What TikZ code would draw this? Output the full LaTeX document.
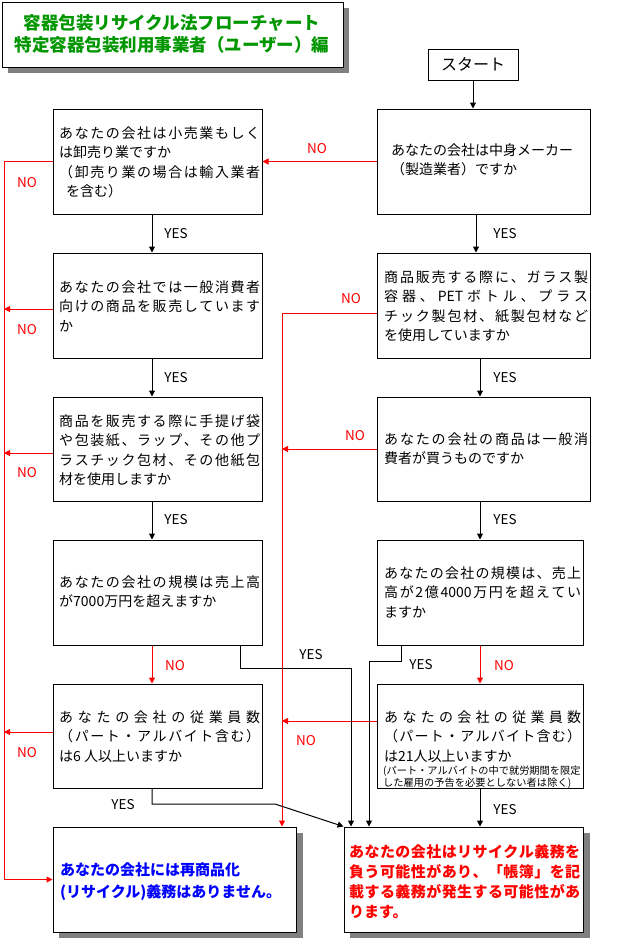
\documentclass[tikz,border=0pt]{standalone}
\usepackage{fontspec}
\setmainfont{Noto Sans CJK JP}
\usetikzlibrary{arrows.meta}
\definecolor{ttlgreen}{RGB}{0,150,0}
\definecolor{shd}{RGB}{128,128,128}
\makeatletter
\newcommand\spr[2]{\hbox to #1{\@tfor\sprx:=#2\do{\sprx\hfil}\unskip}}
\makeatother
\newcommand\fst{\rule{0pt}{0.93em}}
\begin{document}
\begin{tikzpicture}[x=1pt,y=-1pt,
  box/.style={draw=black,line width=1pt,fill=white,inner sep=0pt},
  txt/.style={anchor=north west,inner sep=0pt,align=left,font=\fontsize{14}{19.3}\selectfont},
  smalltxt/.style={anchor=north west,inner sep=0pt,align=left,font=\fontsize{10.2}{12}\selectfont},
  lbl/.style={inner sep=0pt,font=\fontsize{13.5}{16}\selectfont},
  nolbl/.style={lbl,text=red},
  yes/.style={draw=black,line width=1pt,-{Triangle[length=6pt,width=6pt]}},
  no/.style={draw=red,line width=1pt,-{Triangle[length=6pt,width=6pt]}}]

\useasboundingbox (0,0) rectangle (616,940);
\fill[white] (0,0) rectangle (616,940);

% shadows
\fill[shd] (8,8) rectangle (349,73);
\fill[shd] (59,833) rectangle (303,938);
\fill[shd] (350,833) rectangle (590,938);

% boxes
\node[box,minimum width=341pt,minimum height=65pt] (title) at (172.5,34.5) {};
\node[box,minimum width=90pt,minimum height=31pt,font=\fontsize{16}{18}\selectfont] (start) at (473,64.5) {スタート};
\node[box,minimum width=209pt,minimum height=105pt] (L1) at (157.5,161.5) {};
\node[box,minimum width=209pt,minimum height=105pt] (L2) at (157.5,305.5) {};
\node[box,minimum width=209pt,minimum height=104pt] (L3) at (157.5,449) {};
\node[box,minimum width=209pt,minimum height=105pt] (L4) at (157.5,592.5) {};
\node[box,minimum width=209pt,minimum height=104pt] (L5) at (157.5,736) {};
\node[box,minimum width=213pt,minimum height=105pt] (R1) at (483.5,161.5) {};
\node[box,minimum width=213pt,minimum height=105pt] (R2) at (483.5,305.5) {};
\node[box,minimum width=213pt,minimum height=104pt] (R3) at (483.5,449) {};
\node[box,minimum width=206pt,minimum height=105pt] (R4) at (480,592.5) {};
\node[box,minimum width=206pt,minimum height=104pt] (R5) at (480,736) {};
\node[box,minimum width=243pt,minimum height=105pt] (BL) at (174.5,879.5) {};
\node[box,minimum width=239pt,minimum height=105pt] (BR) at (463.5,879.5) {};

% helper coordinates
\coordinate (xL) at (152,0);
\coordinate (xR1) at (476,0);
\coordinate (xR) at (480,0);
\coordinate (xLL) at (4,0);
\coordinate (xM) at (282,0);
\coordinate (a1) at (240,668);
\coordinate (a2) at (351,668);
\coordinate (b1) at (401,661);
\coordinate (b2) at (369,661);
\coordinate (c1) at (152,804);
\coordinate (c2) at (275,804);

% connectors
\draw[yes] (start.south) -- (start.south |- R1.north);
\draw[yes] (L1.south -| xL) -- (L2.north -| xL);
\draw[yes] (L2.south -| xL) -- (L3.north -| xL);
\draw[yes] (L3.south -| xL) -- (L4.north -| xL);
\draw[no] (L4.south -| xL) -- (L5.north -| xL);
\draw[yes] (R1.south -| xR1) -- (R2.north -| xR1);
\draw[yes] (R2.south -| xR) -- (R3.north -| xR);
\draw[yes] (R3.south -| xR) -- (R4.north -| xR);
\draw[no] (R4.south -| xR) -- (R5.north -| xR);
\draw[yes] (R5.south -| xR) -- (BR.north -| xR);
\draw[no] (R1.west) -- (L1.east);
\draw[no] (L1.west) -- (L1.west -| xLL) -- (xLL |- BL.west) -- (BL.west);
\draw[no] ([yshift=-3.5pt]L2.west) -- ([yshift=-3.5pt]L2.west -| xLL);
\draw[no] ([yshift=-4pt]L3.west) -- ([yshift=-4pt]L3.west -| xLL);
\draw[no] ([yshift=4pt]L5.west) -- ([yshift=4pt]L5.west -| xLL);
\draw[no] ([yshift=-7.5pt]R2.west) -| (BL.north -| xM);
\draw[no] (R3.west) -- (R3.west -| xM);
\draw[no] ([yshift=15pt]R5.west) -- ([yshift=15pt]R5.west -| xM);
\draw[yes] (L4.south -| a1) -- (a1) -- (a2) -- (BR.north -| a2);
\draw[yes] (R4.south -| b1) -- (b1) -- (b2) -- (BR.north -| b2);
\draw[yes] (L5.south -| c1) -- (c1) -- (c2) -- (BR.north west);

% labels
\node[nolbl] (n1) at (317,149) {NO};
\node[nolbl] (n2) at (27,183) {NO};
\node[nolbl] (n3) at (27,330) {NO};
\node[nolbl] (n4) at (27,473) {NO};
\node[nolbl] (n5) at (27,753) {NO};
\node[nolbl] (n6) at (351,299) {NO};
\node[nolbl] (n7) at (355,436) {NO};
\node[nolbl] (n8) at (175,666) {NO};
\node[nolbl] (n9) at (504,666) {NO};
\node[nolbl] (n10) at (306,741) {NO};
\node[lbl] (y1) at (176,234) {YES};
\node[lbl] (y2) at (176,378) {YES};
\node[lbl] (y3) at (176,520) {YES};
\node[lbl] (y4) at (505,234) {YES};
\node[lbl] (y5) at (505,378) {YES};
\node[lbl] (y6) at (505,520) {YES};
\node[lbl] (y7) at (311,655) {YES};
\node[lbl] (y8) at (421,665) {YES};
\node[lbl] (y9) at (123,805) {YES};
\node[lbl] (y10) at (505,810) {YES};

% texts
\node[anchor=north,align=center,inner sep=0pt,font=\fontsize{17.5}{22}\selectfont\bfseries,text=ttlgreen] (ttl) at (172,13.4)
  {\fst 容器包装リサイクル法フローチャート\\特定容器包装利用事業者（ユーザー）編};

\node[txt] (tL1) at (59,125.3) {\fst\spr{201pt}{あなたの会社は小売業もしく}\\
  は卸売り業ですか\\
  \spr{201pt}{（卸売り業の場合は輸入業者}\\
  \hspace*{7pt}を含む）};
\node[txt] (tL2) at (59,279.3) {\fst\spr{201pt}{あなたの会社では一般消費者}\\
  \spr{201pt}{向けの商品を販売しています}\\
  か};
\node[txt] (tL3) at (59,413.3) {\fst\spr{201pt}{商品を販売する際に手提げ袋}\\
  \spr{201pt}{や包装紙、ラップ、その他プ}\\
  \spr{201pt}{ラスチック包材、その他紙包}\\
  材を使用しますか};
\node[txt] (tL4) at (59,574.3) {\fst\spr{201pt}{あなたの会社の規模は売上高}\\
  が7000万円を超えますか};
\node[txt] (tL5) at (59,709.3) {\fst\spr{201pt}{あなたの会社の従業員数}\\
  \spr{201pt}{（パート・アルバイト含む）}\\
  は6 人以上いますか};

\node[txt] (tR1) at (391,142.3) {\fst あなたの会社は中身メーカー\\
  （製造業者）ですか};
\node[txt] (tR2) at (384,269.3) {\fst\spr{204pt}{商品販売する際に、ガラス製}\\
  \spr{204pt}{容器、{PET}ボトル、プラス}\\
  \spr{204pt}{チック製包材、紙製包材など}\\
  を使用していますか};
\node[txt] (tR3) at (384,431.3) {\fst\spr{204pt}{あなたの会社の商品は一般消}\\
  費者が買うものですか};
\node[txt] (tR4) at (384,565.3) {\fst\spr{197pt}{あなたの会社の規模は、売上}\\
  \spr{197pt}{高が{2}億{4000}万円を超えてい}\\
  ますか};
\node[txt] (tR5) at (384,709.3) {\fst\spr{197pt}{あなたの会社の従業員数}\\
  \spr{197pt}{（パート・アルバイト含む）}\\
  は21人以上いますか};
\node[smalltxt] (tR5s) at (383,764.4) {\fst\spr{197pt}{(パート・アルバイトの中で就労期間を限定}\\
  \spr{188pt}{した雇用の予告を必要としない者は除く)}};

\node[anchor=north west,inner sep=0pt,align=left,font=\fontsize{15}{22}\selectfont\bfseries,text=blue] (tBL) at (60,861.8)
  {\fst あなたの会社には再商品化\\(リサイクル)義務はありません。};
\node[anchor=north west,inner sep=0pt,align=left,font=\fontsize{15}{19.7}\selectfont\bfseries,text=red] (tBR) at (349,843.8)
  {\fst\spr{231pt}{あなたの会社はリサイクル義務を}\\
  \spr{231pt}{負う可能性があり、「帳簿」を記}\\
  \spr{231pt}{載する義務が発生する可能性があ}\\
  ります。};
\end{tikzpicture}
\end{document}
